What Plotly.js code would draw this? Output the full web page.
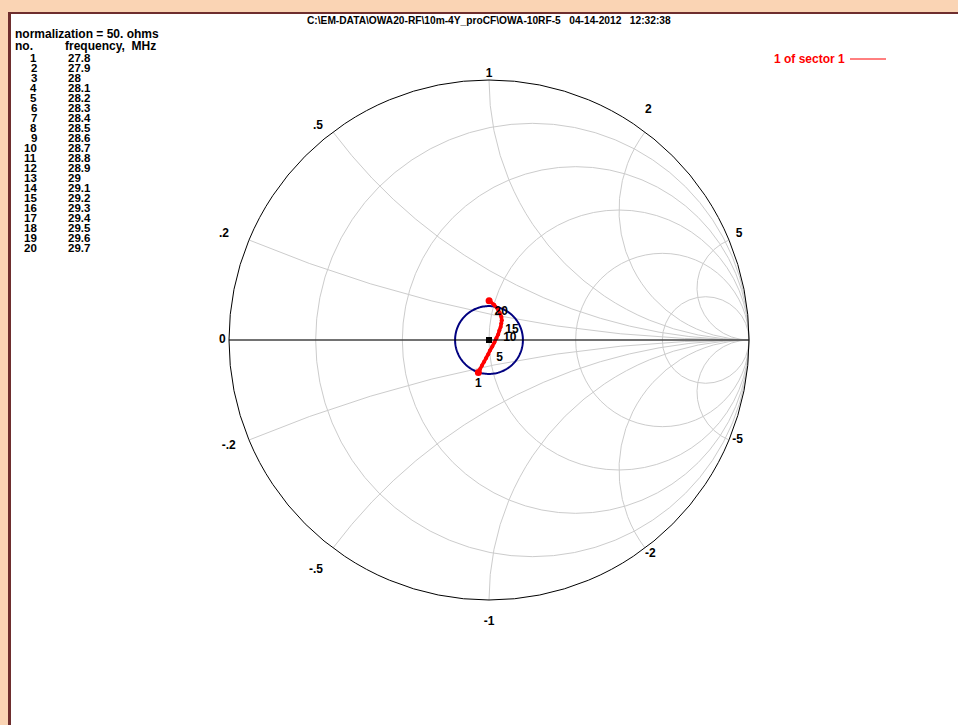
<!DOCTYPE html>
<html>
<head>
<meta charset="utf-8">
<script src="https://cdn.plot.ly/plotly-3.0.1.min.js"></script>
<style>
  html, body { margin:0; padding:0; width:958px; height:725px; overflow:hidden; background:#FAD4B4; }
  #frame { position:absolute; left:8px; top:12px; width:980px; height:740px; background:#ffffff;
           border-left:3px solid #6E2E2E; border-top:2px solid #6E2E2E; }
  #chart { position:absolute; left:0; top:0; width:958px; height:725px; }
</style>
</head>
<body>
<div id="frame"></div>
<div id="chart"></div>
<script>
// ---- data ----
const normalizationOhms = 50;
const pointNo = [1,2,3,4,5,6,7,8,9,10,11,12,13,14,15,16,17,18,19,20];
const frequencyMHz = [27.8,27.9,28,28.1,28.2,28.3,28.4,28.5,28.6,28.7,28.8,28.9,29,29.1,29.2,29.3,29.4,29.5,29.6,29.7];
const resistanceOhms = [44.7,45.6,46.5,47.5,48.4,49.4,50.2,51.2,52.1,52.9,53.6,54.0,54.4,54.5,54.5,54.1,53.1,51.9,50.1,47.8];
const reactanceOhms  = [-11.4,-10.3,-9.2,-8.0,-6.8,-5.4,-4.1,-2.6,-1.0,0.7,2.3,4.0,5.5,7.0,8.3,9.7,11.2,12.6,13.8,14.8];
const labeledPoints = [1,5,10,15,20];
const vswrCircle = 1.3;
const realGridVals = [0.2,0.5,1,2,5];
const imagGridVals = [-5,-2,-1,-0.5,-0.2,0,0.2,0.5,1,2,5];
const imagTickVals   = [0,0.2,0.5,1,2,5,-0.2,-0.5,-1,-2,-5];
const imagTickLabels = ['0','.2','.5','1','2','5','-.2','-.5','-1','-2','-5'];
const titleText = 'C:\\EM-DATA\\OWA20-RF\\10m-4Y_proCF\\OWA-10RF-5\u00a0\u00a0\u00a004-14-2012\u00a0\u00a0\u00a012:32:38';
const seriesName = '1 of sector 1';

// ---- helpers ----
const W = 958, H = 725;
const px = x => x / W;
const py = y => 1 - y / H;
const FONT = 'Liberation Sans, Arial, sans-serif';
const NB = '\u00a0';
const pad = n => NB.repeat(n);

const rN = resistanceOhms.map(v => v / normalizationOhms);
const xN = reactanceOhms.map(v => v / normalizationOhms);

// VSWR circle -> normalized impedance
const rho = (vswrCircle - 1) / (vswrCircle + 1);
const vr = [], vx = [];
for (let k = 0; k <= 180; k++) {
  const th = 2 * Math.PI * k / 180;
  const gr = rho * Math.cos(th), gi = rho * Math.sin(th);
  const den = (1 - gr) * (1 - gr) + gi * gi;
  vr.push((1 - gr * gr - gi * gi) / den);
  vx.push(2 * gi / den);
}

// point-number labels (styling only)
const ptStyle = {
  1:  {pos:'bottom center', pre:'', post:''},
  5:  {pos:'middle right', pre:pad(2), post:''},
  10: {pos:'middle right', pre:pad(1), post:''},
  15: {pos:'bottom right', pre:'', post:''},
  20: {pos:'bottom right', pre:'', post:''}
};
const ptText = pointNo.map(n => labeledPoints.includes(n) ? ptStyle[n].pre + String(n) + ptStyle[n].post : '');
const ptPos = pointNo.map(n => labeledPoints.includes(n) ? ptStyle[n].pos : 'middle right');
const ptSize = pointNo.map((n, i) => (i === 0 || i === pointNo.length - 1) ? 7 : 4);

// tick-label placement (styling only)
const tickStyle = {
  '0':  {pos:'middle left',   pre:'', post:pad(1)},
  '.2': {pos:'top left',      pre:'', post:pad(6)},
  '.5': {pos:'top left',      pre:'', post:pad(3)},
  '1':  {pos:'top center',    pre:'', post:''},
  '2':  {pos:'top right',     pre:'', post:'<br>' + NB},
  '5':  {pos:'top right',     pre:pad(2), post:''},
  '-.2':{pos:'bottom left',   pre:'', post:pad(4)},
  '-.5':{pos:'bottom left',   pre:NB + '<br>', post:pad(3)},
  '-1': {pos:'bottom center', pre:NB + '<br>', post:''},
  '-2': {pos:'bottom right',  pre:'', post:''},
  '-5': {pos:'middle right',  pre:pad(1), post:''}
};

const traces = [
  { type:'scattersmith', real:vr, imag:vx, mode:'lines', line:{color:'#000080', width:2},
    hoverinfo:'skip', showlegend:false },
  { type:'scattersmith', real:[1], imag:[0], mode:'markers',
    marker:{symbol:'square', size:6, color:'#000000', line:{width:0}}, hoverinfo:'skip', showlegend:false },
  { type:'scattersmith', real:rN, imag:xN, mode:'lines+markers+text', name:seriesName,
    line:{color:'#FF0000', width:3.5, shape:'linear'},
    marker:{color:'#FF0000', size:ptSize, opacity:1, line:{width:0, color:'#FF0000'}},
    opacity:1,
    text:ptText, textposition:ptPos, textfont:{family:FONT, size:12, color:'#000000', weight:'bold'},
    cliponaxis:false, showlegend:false },
  { type:'scattersmith', real:imagTickVals.map(() => 0), imag:imagTickVals, mode:'text',
    text:imagTickLabels.map(t => tickStyle[t].pre + t + tickStyle[t].post),
    textposition:imagTickLabels.map(t => tickStyle[t].pos),
    textfont:{family:FONT, size:12, color:'#000000', weight:'bold'},
    cliponaxis:false, hoverinfo:'skip', showlegend:false }
];

const annotations = [];
annotations.push({ xref:'paper', yref:'paper', x:px(489), y:py(20), xanchor:'center', yanchor:'middle',
  text:titleText, showarrow:false, font:{family:FONT, size:10.2, color:'#000', weight:'bold'} });
annotations.push({ xref:'paper', yref:'paper', x:px(13), y:py(34), xanchor:'left', yanchor:'middle',
  text:'normalization = ' + normalizationOhms + '. ohms', showarrow:false,
  font:{family:FONT, size:12, color:'#000', weight:'bold'} });
annotations.push({ xref:'paper', yref:'paper', x:px(13), y:py(46), xanchor:'left', yanchor:'middle',
  text:'no.', showarrow:false, font:{family:FONT, size:12, color:'#000', weight:'bold'} });
annotations.push({ xref:'paper', yref:'paper', x:px(63), y:py(46), xanchor:'left', yanchor:'middle',
  text:'frequency,' + pad(2) + 'MHz', showarrow:false, font:{family:FONT, size:12, color:'#000', weight:'bold'} });
pointNo.forEach((n, i) => {
  const yy = py(58 + i * 10);
  annotations.push({ xref:'paper', yref:'paper', x:px(38), y:yy, xanchor:'right', yanchor:'middle',
    text:String(n), showarrow:false, borderpad:0, font:{family:FONT, size:11.5, color:'#000', weight:'bold'} });
  annotations.push({ xref:'paper', yref:'paper', x:px(67), y:yy, xanchor:'left', yanchor:'middle',
    text:String(frequencyMHz[i]), showarrow:false, borderpad:0, font:{family:FONT, size:11.5, color:'#000', weight:'bold'} });
});
annotations.push({ xref:'paper', yref:'paper', x:px(847), y:py(59), xanchor:'right', yanchor:'middle',
  text:seriesName, showarrow:false, font:{family:FONT, size:12, color:'#FF0000', weight:'bold'} });

const layout = {
  width:W, height:H,
  margin:{l:0, r:0, t:0, b:0, pad:0},
  paper_bgcolor:'rgba(0,0,0,0)',
  showlegend:false,
  smith:{
    domain:{x:[px(229), px(749)], y:[py(600), py(80)]},
    bgcolor:'rgba(0,0,0,0)',
    realaxis:{tickvals:realGridVals, showticklabels:false, ticks:'', showgrid:true,
      gridcolor:'#CCCCCC', gridwidth:1, showline:true, linecolor:'#000000', linewidth:1},
    imaginaryaxis:{tickvals:imagGridVals, showticklabels:false, ticks:'', showgrid:true,
      gridcolor:'#CCCCCC', gridwidth:1, showline:true, linecolor:'#000000', linewidth:1}
  },
  shapes:[
    { type:'line', xref:'paper', yref:'paper', x0:px(850), x1:px(886), y0:py(59), y1:py(59),
      line:{color:'#FF0000', width:1} }
  ],
  annotations:annotations
};

Plotly.newPlot('chart', traces, layout, {staticPlot:true, displayModeBar:false});
</script>
</body>
</html>
